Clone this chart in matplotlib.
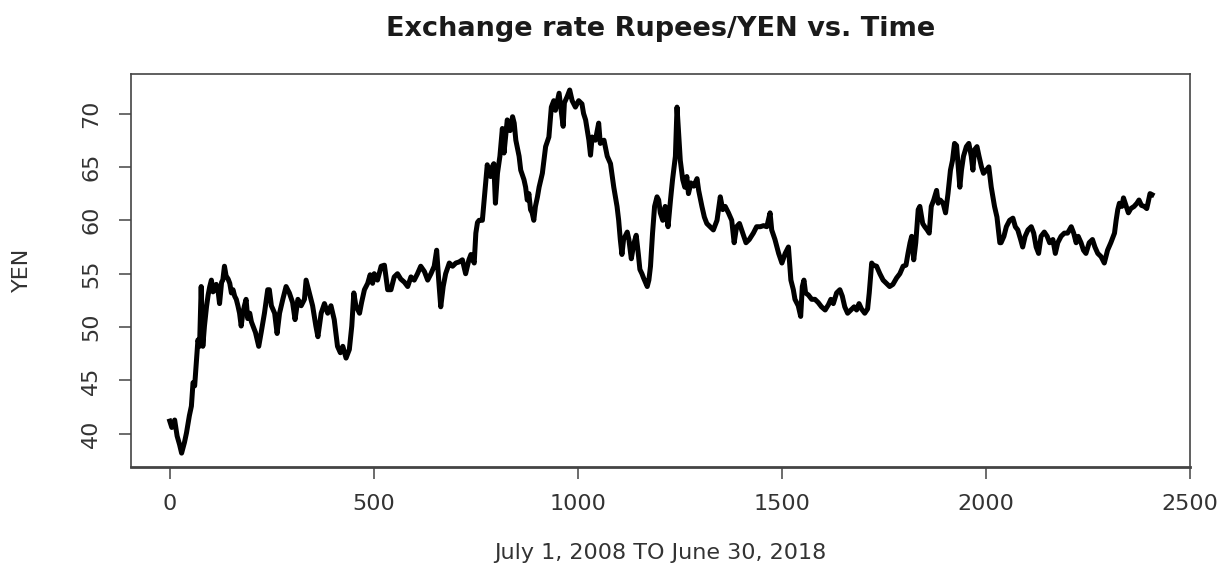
import numpy as np
import matplotlib
matplotlib.use('Agg')
import matplotlib.pyplot as plt

# daily INR/JPY rate (rupees per 100 yen), sampled along the series
day = [
    0, 5, 12, 18, 24, 29, 36, 41, 48, 53, 57, 61, 65, 69, 73, 77, 81, 85, 90, 94,
    98, 102, 106, 110, 114, 118, 122, 127, 130, 134, 138, 143, 147, 151, 155, 159, 163, 167, 171, 175,
    179, 183, 187, 191, 196, 200, 204, 210, 218, 224, 232, 240, 244, 249, 257, 263, 269, 277, 285, 293,
    301, 307, 314, 322, 330, 334, 342, 350, 358, 363, 371, 379, 387, 395, 403, 411, 418, 424, 432, 440,
    446, 451, 456, 465, 470, 477, 485, 491, 497, 501, 509, 518, 526, 534, 542, 550, 558, 566, 575, 583,
    591, 599, 607, 615, 624, 632, 640, 648, 654, 659, 664, 670, 676, 685, 693, 701, 709, 717, 725, 733,
    738, 746, 750, 754, 758, 766, 774, 778, 782, 786, 790, 794, 798, 803, 809, 815, 819, 823, 827, 834,
    840, 844, 848, 856, 860, 868, 872, 876, 880, 884, 888, 892, 896, 901, 905, 913, 921, 929, 935, 941,
    945, 954, 959, 964, 967, 974, 980, 986, 994, 1002, 1010, 1014, 1019, 1027, 1031, 1035, 1043, 1051, 1055, 1064,
    1072, 1080, 1088, 1096, 1100, 1104, 1108, 1112, 1121, 1125, 1131, 1137, 1143, 1148, 1152, 1157, 1161, 1170, 1174, 1178,
    1183, 1188, 1194, 1198, 1202, 1208, 1214, 1221, 1227, 1232, 1239, 1243, 1247, 1251, 1257, 1262, 1267, 1271, 1277, 1284,
    1292, 1296, 1304, 1310, 1316, 1324, 1332, 1341, 1349, 1355, 1361, 1369, 1377, 1383, 1389, 1396, 1404, 1412, 1420, 1430,
    1438, 1447, 1455, 1463, 1471, 1475, 1483, 1492, 1500, 1508, 1516, 1522, 1528, 1532, 1540, 1546, 1550, 1554, 1558, 1565,
    1573, 1581, 1589, 1597, 1606, 1614, 1620, 1626, 1634, 1642, 1648, 1654, 1661, 1669, 1677, 1683, 1689, 1695, 1703, 1710,
    1714, 1720, 1724, 1732, 1740, 1748, 1756, 1764, 1772, 1781, 1789, 1797, 1804, 1809, 1814, 1818, 1823, 1828, 1834, 1838,
    1845, 1850, 1856, 1861, 1866, 1872, 1879, 1883, 1888, 1895, 1901, 1907, 1913, 1918, 1923, 1928, 1932, 1936, 1940, 1945,
    1952, 1958, 1964, 1968, 1972, 1978, 1983, 1989, 1994, 2001, 2007, 2013, 2021, 2027, 2034, 2037, 2044, 2050, 2058, 2066,
    2072, 2078, 2085, 2090, 2096, 2103, 2111, 2117, 2123, 2129, 2135, 2143, 2150, 2156, 2164, 2170, 2176, 2184, 2192, 2200,
    2209, 2215, 2221, 2226, 2233, 2239, 2245, 2253, 2261, 2267, 2274, 2282, 2290, 2298, 2306, 2315, 2319, 2323, 2327, 2333,
    2337, 2343, 2349, 2355, 2363, 2370, 2375, 2381, 2388, 2394, 2397, 2402, 2407,
]
rate = [
    41.2, 40.6, 41.3, 39.8, 39.0, 38.2, 39.2, 40.1, 41.7, 42.6, 44.8, 44.5, 46.6, 48.8, 48.2, 53.8, 48.2, 50.1, 51.9, 53.0,
    53.8, 54.4, 53.3, 53.5, 54.0, 53.5, 52.2, 54.2, 54.4, 55.7, 54.8, 54.5, 54.1, 53.2, 53.5, 52.9, 52.6, 52.0, 51.3, 50.1,
    51.3, 52.0, 52.6, 50.8, 51.3, 50.5, 50.1, 49.5, 48.2, 49.5, 51.3, 53.5, 53.5, 52.0, 51.3, 49.4, 51.3, 52.6, 53.8, 53.2,
    52.3, 50.7, 52.6, 52.0, 52.6, 54.4, 53.2, 52.0, 50.1, 49.1, 51.3, 52.2, 51.3, 52.0, 50.7, 48.2, 47.6, 48.2, 47.1, 47.9,
    50.1, 53.2, 52.0, 51.3, 52.3, 53.5, 54.1, 54.9, 54.1, 55.0, 54.4, 55.7, 55.8, 53.5, 53.5, 54.7, 55.0, 54.5, 54.2, 53.8,
    54.7, 54.4, 55.0, 55.7, 55.2, 54.4, 55.0, 55.7, 57.2, 54.4, 51.9, 53.8, 55.0, 56.0, 55.7, 56.0, 56.1, 56.3, 55.0, 56.3,
    56.8, 56.0, 58.8, 59.8, 60.0, 60.0, 63.5, 65.2, 64.4, 64.1, 65.0, 65.3, 61.6, 64.4, 66.0, 68.6, 66.3, 67.8, 69.4, 68.4,
    69.7, 69.1, 67.5, 66.0, 64.7, 63.8, 63.1, 61.9, 62.5, 61.0, 60.7, 60.0, 61.3, 62.2, 63.1, 64.4, 66.9, 67.8, 70.6, 71.2,
    70.3, 71.9, 70.3, 68.8, 71.0, 71.6, 72.2, 71.2, 70.6, 71.2, 70.9, 70.0, 69.4, 67.5, 66.1, 67.8, 67.5, 69.1, 67.2, 67.5,
    66.0, 65.3, 63.1, 61.3, 60.0, 58.2, 56.8, 58.2, 58.9, 58.2, 56.4, 57.8, 58.6, 56.9, 55.4, 55.0, 54.6, 53.8, 54.4, 55.7,
    58.8, 61.3, 62.2, 61.9, 60.7, 60.0, 61.3, 59.4, 61.9, 63.8, 66.0, 70.6, 68.1, 65.6, 63.8, 63.1, 64.1, 62.5, 63.5, 63.2,
    63.9, 62.8, 61.3, 60.3, 59.7, 59.4, 59.1, 60.0, 62.2, 61.0, 61.3, 60.7, 60.0, 57.9, 59.4, 59.7, 58.8, 57.9, 58.2, 58.8,
    59.4, 59.4, 59.5, 59.4, 60.7, 59.1, 58.2, 56.9, 56.0, 56.9, 57.5, 54.4, 53.5, 52.6, 52.0, 51.0, 53.8, 54.4, 53.2, 53.0,
    52.6, 52.6, 52.3, 51.9, 51.6, 52.1, 52.6, 52.2, 53.2, 53.5, 52.9, 51.9, 51.3, 51.6, 51.9, 51.6, 52.2, 51.7, 51.3, 51.7,
    53.2, 56.0, 55.8, 55.7, 55.0, 54.4, 54.1, 53.8, 54.0, 54.6, 55.0, 55.7, 55.8, 56.9, 57.9, 58.5, 56.3, 57.9, 61.0, 61.3,
    59.7, 59.4, 59.1, 58.8, 61.3, 61.9, 62.8, 61.6, 61.9, 61.6, 60.7, 62.5, 64.7, 65.6, 67.2, 67.0, 65.0, 63.1, 64.7, 66.0,
    66.9, 67.2, 66.0, 64.7, 66.6, 66.9, 66.0, 65.0, 64.4, 64.7, 65.0, 63.1, 61.3, 60.3, 57.9, 57.9, 58.5, 59.4, 60.0, 60.2,
    59.4, 59.1, 58.2, 57.5, 58.5, 59.1, 59.4, 58.8, 57.5, 56.9, 58.5, 58.9, 58.5, 57.9, 58.2, 56.9, 57.9, 58.5, 58.8, 58.8,
    59.4, 58.8, 57.9, 58.5, 57.9, 57.2, 56.9, 57.9, 58.2, 57.5, 56.9, 56.6, 56.0, 57.2, 57.9, 58.8, 60.0, 61.0, 61.6, 61.3,
    62.1, 61.4, 60.7, 61.1, 61.3, 61.6, 61.9, 61.4, 61.3, 61.1, 61.6, 62.5, 62.4,
]

x_ticks = [0, 500, 1000, 1500, 2000, 2500]
y_ticks = [40, 45, 50, 55, 60, 65, 70]

plt.rcParams['font.family'] = ['DejaVu Sans']

fig = plt.figure(figsize=(12.24, 5.65), dpi=100)
ax = fig.add_axes([131 / 1224, 1 - 467 / 565, (1190 - 131) / 1224, (467 - 74) / 565])

ax.plot(day, rate, color='black', lw=3.6, solid_joinstyle='round')

ax.set_xlim(-95, 2498)
ax.set_ylim(36.9, 73.7)
ax.set_xticks(x_ticks)
ax.set_yticks(y_ticks)

for side in ['top', 'right', 'left', 'bottom']:
    ax.spines[side].set_color('#444444')
    ax.spines[side].set_linewidth(1.2)
ax.spines['bottom'].set_linewidth(2.0)

ax.tick_params(axis='both', direction='out', length=8.5, width=1.1, color='#444444',
               labelsize=16, labelcolor='#333333')
ax.tick_params(axis='x', pad=11)
ax.tick_params(axis='y', pad=13)
plt.setp(ax.get_yticklabels(), rotation=90, va='center')

fig.text(0.5396, 1 - 29 / 565, 'Exchange rate Rupees/YEN vs. Time', ha='center', va='center',
         fontsize=19.5, fontweight='bold', color='#1a1a1a')
fig.text(0.5396, 1 - 553 / 565, 'July 1, 2008 TO June 30, 2018', ha='center', va='center',
         fontsize=16, color='#333333')
fig.text(22 / 1224, 1 - 270 / 565, 'YEN', ha='center', va='center', rotation=90,
         fontsize=16, color='#333333')

fig.savefig('out.png', dpi=100)
